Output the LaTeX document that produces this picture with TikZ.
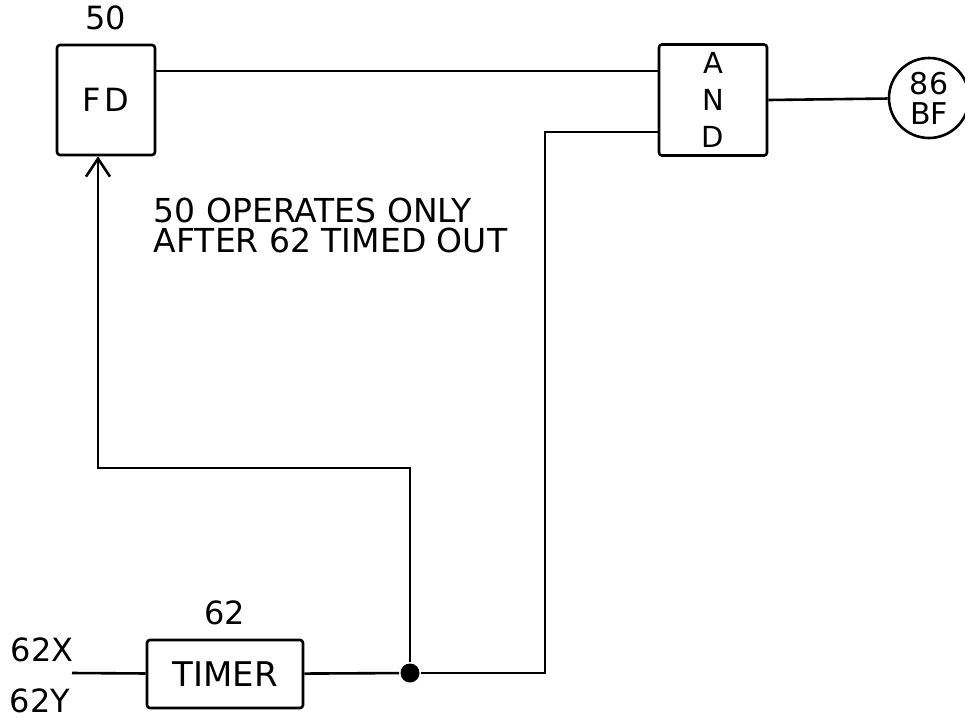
\documentclass[tikz,border=0pt]{standalone}
\usepackage{fontspec}
\setmainfont{DejaVu Sans}
\usetikzlibrary{positioning,arrows.meta}

\begin{document}
\begin{tikzpicture}[x=0.5pt, y=-0.5pt, line width=1.3pt,
  font=\fontsize{16}{15}\selectfont,
  b/.style={draw,rounded corners=1.5pt,align=center,inner sep=0pt},
  lbl/.style={inner sep=1pt},
  arr/.style={-{Straight Barb[length=9pt,width=12pt]}}]
\useasboundingbox (0,0) rectangle (965,719);
\node[b, minimum width=49pt, minimum height=55pt] (fd) at (106,100) {F\kern1.5pt D};
\node[b, minimum width=54pt, minimum height=55.5pt, font=\fontsize{14.5}{18.5}\selectfont] (and) at (713,100) {A\\N\\D};
\node[b, minimum width=78pt, minimum height=34pt, font=\fontsize{17}{17}\selectfont] (tmr) at (225,674) {TIMER};
\node[draw, circle, minimum size=40pt, inner sep=0pt, align=center,
  font=\fontsize{15}{15}\selectfont] (bf) at (929,98) {86\\BF};
\node[above=3pt of fd] (fdno) {50};
\node[above=3pt of tmr] (tmrno) {62};
\node[lbl] (inx) at (42,650) {62X};
\node[lbl] (iny) at (40,701) {62Y};
\node[anchor=west, align=left, font=\fontsize{16.5}{15}\selectfont] (note) at (146,225) {50 OPERATES ONLY\\AFTER 62 TIMED OUT};
\node[circle, fill, inner sep=0pt, minimum size=9.5pt] (dot) at (410,673) {};
\coordinate (tin) at (72,673);
\coordinate (up) at (410,468);
\coordinate (lf) at (98,468);
\coordinate (rt) at (545,673);
\draw ([yshift=14.5pt]fd.east) -- ([yshift=14.5pt]and.west);
\draw (and.east) -- (bf);
\draw (tin) -- (tmr);
\draw (tmr) -- (dot);
\draw (dot) -- (rt) |- ([yshift=-16pt]and.west);
\draw[arr] (dot) -- (up) -- (lf) -- (lf |- fd.south);
\end{tikzpicture}
\end{document}
